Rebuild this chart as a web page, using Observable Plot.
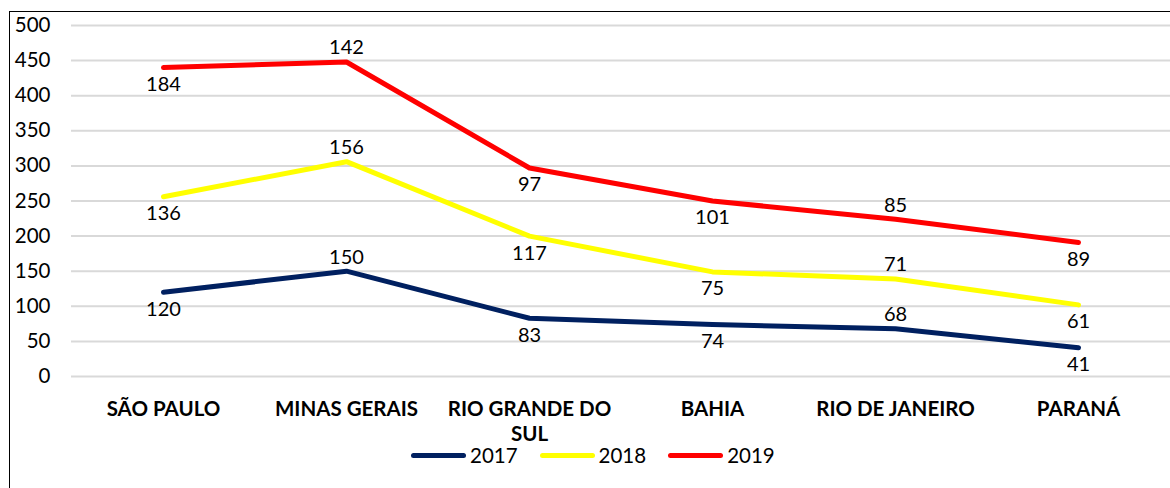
<!DOCTYPE html>
<html>
<head>
<meta charset="utf-8">
<script src="https://cdn.jsdelivr.net/npm/d3@7"></script>
<script src="https://cdn.jsdelivr.net/npm/@observablehq/plot@0.6"></script>
<style>
  html, body { margin: 0; padding: 0; background: #fff; }
  #wrap { position: relative; width: 1170px; height: 488px; font-family: Lato, "Open Sans", sans-serif; overflow: hidden; }
  #frame { position: absolute; left: 9px; top: 11px; right: -5px; bottom: -5px; border-left: 1.5px solid #000; border-top: 1.5px solid #000; }
  #chart { position: absolute; left: 0; top: 0; }
  #legend { position: absolute; top: 443px; left: 411px; display: flex; gap: 22px; font-size: 20.5px; color: #000; }
  .item { display: flex; align-items: center; gap: 4px; }
  .sw { width: 55px; height: 5px; border-radius: 3px; }
</style>
</head>
<body>
<div id="wrap">
  <div id="frame"></div>
  <div id="chart"></div>
  <div id="legend"></div>
</div>
<script>
const states = ["SÃO PAULO", "MINAS GERAIS", "RIO GRANDE DO SUL", "BAHIA", "RIO DE JANEIRO", "PARANÁ"];
const years = ["2017", "2018", "2019"];
const v2017 = [120, 150, 83, 74, 68, 41];
const v2018 = [136, 156, 117, 75, 71, 61];
const v2019 = [184, 142, 97, 101, 85, 89];
const colors = ["#002060", "#FFFF00", "#FF0000"];
const yTicks = [0, 50, 100, 150, 200, 250, 300, 350, 400, 450, 500];
const labelAbove = [false, true, false, false, true, false];

const series = [v2017, v2018, v2019];
const rows = [];
states.forEach((s, i) => {
  let cum = 0;
  series.forEach((vals, k) => {
    cum += vals[i];
    rows.push({state: s, year: years[k], value: vals[i], top: cum, above: labelAbove[i]});
  });
});

const chart = Plot.plot({
  width: 1170,
  height: 488,
  marginLeft: 71,
  marginRight: 0,
  marginTop: 25,
  marginBottom: 112,
  style: {fontFamily: "Lato, 'Open Sans', sans-serif", background: "transparent"},
  x: {type: "point", domain: states, padding: 0.5},
  y: {domain: [0, 500]},
  color: {domain: years, range: colors},
  marks: [
    Plot.gridY(yTicks, {stroke: "#d9d9d9", strokeOpacity: 1, strokeWidth: 2}),
    Plot.axisY({ticks: yTicks, tickSize: 0, tickPadding: 0, dx: -21, fontSize: 20.5, fill: "#000", label: null, anchor: "left", textAnchor: "end", marginLeft: 71}),
    Plot.axisX({tickSize: 0, tickPadding: 22, fontSize: 20.5, fontWeight: "bold", fill: "#000", label: null,
      tickFormat: d => d === "RIO GRANDE DO SUL" ? "RIO GRANDE DO\nSUL" : d, lineHeight: 1.2}),
    Plot.line(rows, {x: "state", y: "top", z: "year", stroke: "year", strokeWidth: 5, strokeLinecap: "round", strokeLinejoin: "round"}),
    Plot.text(rows.filter(d => d.above), {x: "state", y: "top", text: d => String(d.value), dy: -14, fontSize: 20, fill: "#000"}),
    Plot.text(rows.filter(d => !d.above), {x: "state", y: "top", text: d => String(d.value), dy: 17, fontSize: 20, fill: "#000"})
  ]
});
document.getElementById("chart").appendChild(chart);

const legend = document.getElementById("legend");
years.forEach((y, k) => {
  const it = document.createElement("div");
  it.className = "item";
  const sw = document.createElement("div");
  sw.className = "sw";
  sw.style.background = colors[k];
  const t = document.createElement("span");
  t.textContent = y;
  it.appendChild(sw);
  it.appendChild(t);
  legend.appendChild(it);
});
</script>
</body>
</html>
